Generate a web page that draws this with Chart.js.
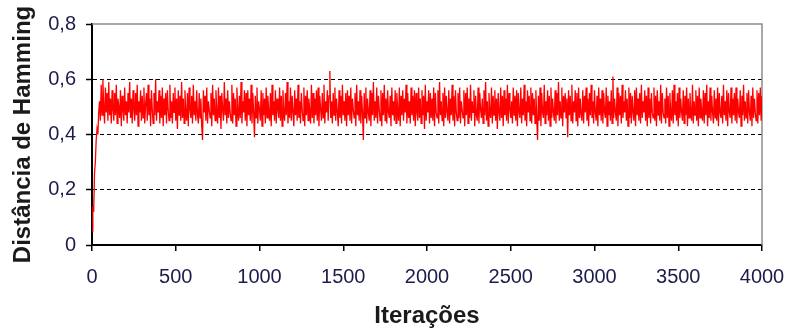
<!DOCTYPE html>
<html>
<head>
<meta charset="utf-8">
<script src="https://cdn.jsdelivr.net/npm/chart.js@4/dist/chart.umd.min.js"></script>
<style>
  html, body { margin: 0; padding: 0; background: #fff; }
  #wrap { width: 787px; height: 329px; position: relative; }
</style>
</head>
<body>
<div id="wrap"><canvas id="grafico"></canvas></div>
<script>
// eixo x: iteracoes, uma amostra a cada 5
const iteracoes = []
for (let it = 0; it <= 4000; it += 5) iteracoes.push(it)

// distancia de Hamming, em centesimos (uma linha = 100 iteracoes)
const distanciaCentesimos = [
    5, 14, 12, 26, 30, 38,
    42, 40, 48, 52, 45, 58, 47, 60, 50, 44, 57, 48, 55, 45, 59, 47, 53, 44, 56, 49,
    45, 55, 47, 58, 44, 53, 50, 46, 56, 43, 54, 49, 45, 57, 47, 52, 44, 55, 48, 59,
    46, 53, 44, 56, 49, 45, 55, 47, 58, 43, 52, 48, 56, 45, 54, 46, 57, 44, 51, 55,
    45, 58, 47, 53, 43, 56, 49, 44, 55, 47, 60, 45, 52, 48, 56, 44, 54, 46, 57, 43,
    53, 47, 55, 44, 56, 49, 45, 58, 46, 52, 44, 55, 48, 57, 45, 53, 42, 56, 47, 54,
    45, 59, 46, 53, 44, 56, 48, 45, 55, 43, 57, 49, 46, 54, 44, 58, 47, 52, 45, 56,
    47, 44, 55, 46, 53, 43, 38, 56, 48, 54, 45, 57, 44, 52, 49, 46, 55, 43, 58, 47,
    53, 45, 56, 48, 44, 57, 46, 54, 42, 55, 49, 45, 59, 47, 53, 44, 56, 46, 52, 48,
    45, 58, 44, 55, 47, 53, 43, 57, 49, 45, 54, 46, 59, 44, 52, 48, 56, 45, 55, 43,
    56, 47, 53, 45, 58, 44, 55, 48, 39, 54, 46, 57, 44, 52, 49, 45, 56, 43, 55, 47,
    53, 44, 57, 46, 54, 48, 45, 55, 43, 58, 47, 52, 45, 56, 44, 53, 49, 46, 57, 45,
    54, 43, 56, 48, 45, 55, 47, 59, 44, 52, 46, 57, 45, 54, 48, 43, 56, 47, 53, 45,
    58, 46, 52, 44, 55, 49, 45, 57, 43, 54, 47, 56, 45, 53, 48, 44, 58, 46, 55, 44,
    53, 47, 56, 45, 57, 43, 54, 49, 45, 55, 46, 58, 44, 52, 48, 56, 45, 54, 63, 46,
    52, 44, 55, 47, 57, 45, 53, 48, 43, 56, 46, 54, 44, 58, 47, 52, 45, 55, 43, 56,
    47, 54, 45, 57, 44, 53, 49, 46, 55, 43, 58, 47, 52, 45, 56, 44, 54, 48, 38, 55,
    46, 57, 44, 53, 48, 45, 56, 43, 55, 47, 59, 45, 52, 46, 57, 44, 54, 49, 45, 56,
    43, 55, 47, 58, 45, 53, 44, 56, 48, 46, 54, 43, 57, 47, 52, 45, 56, 44, 55, 49,
    45, 57, 43, 54, 47, 56, 45, 53, 48, 58, 44, 55, 46, 52, 44, 57, 47, 54, 45, 56,
    43, 55, 48, 45, 57, 46, 53, 44, 56, 47, 54, 42, 58, 45, 52, 48, 56, 44, 55, 46,
    53, 45, 57, 43, 55, 48, 46, 56, 44, 59, 47, 52, 45, 55, 43, 57, 46, 54, 48, 45,
    56, 44, 53, 47, 58, 45, 54, 43, 56, 48, 45, 55, 46, 57, 44, 52, 49, 46, 56, 43,
    55, 47, 57, 44, 53, 46, 58, 45, 52, 48, 56, 43, 54, 47, 45, 57, 44, 55, 49, 46,
    53, 44, 56, 47, 59, 45, 52, 43, 55, 48, 46, 57, 44, 54, 47, 56, 45, 53, 42, 55,
    48, 45, 57, 46, 54, 43, 56, 47, 53, 45, 58, 44, 55, 49, 46, 52, 44, 57, 47, 54,
    45, 56, 43, 55, 48, 46, 57, 44, 53, 47, 58, 45, 52, 43, 56, 48, 54, 45, 57, 44,
    55, 47, 53, 44, 56, 46, 38, 54, 45, 57, 43, 55, 48, 46, 58, 44, 52, 47, 56, 45,
    54, 43, 57, 46, 53, 48, 45, 56, 44, 55, 47, 59, 45, 52, 46, 57, 43, 54, 48, 55,
    46, 53, 39, 56, 47, 54, 45, 58, 44, 52, 48, 56, 45, 55, 43, 57, 46, 53, 47, 45,
    56, 44, 54, 48, 57, 45, 53, 43, 55, 47, 58, 46, 52, 44, 56, 48, 45, 54, 43, 57,
    47, 53, 45, 56, 44, 55, 48, 46, 57, 43, 54, 47, 52, 45, 56, 44, 61, 46, 53, 48,
    45, 57, 43, 55, 47, 54, 44, 58, 46, 52, 48, 56, 45, 53, 43, 57, 46, 55, 44, 54,
    48, 45, 56, 43, 57, 47, 53, 45, 55, 44, 58, 46, 52, 48, 56, 45, 54, 43, 57, 46,
    53, 44, 55, 48, 46, 57, 45, 54, 43, 56, 47, 52, 45, 58, 44, 55, 48, 46, 53, 44,
    57, 46, 54, 43, 55, 48, 45, 56, 44, 58, 47, 52, 45, 55, 43, 57, 46, 53, 48, 45,
    56, 44, 54, 47, 57, 43, 53, 46, 55, 48, 45, 58, 44, 52, 47, 56, 45, 54, 43, 57,
    46, 53, 48, 45, 56, 44, 55, 47, 58, 43, 52, 46, 57, 45, 54, 48, 44, 56, 46, 53,
    45, 57, 43, 55, 48, 46, 54, 44, 58, 47, 52, 45, 56, 43, 55, 48, 46, 57, 44, 53,
    47, 55, 45, 57, 44, 53, 48, 46, 56, 43, 54, 47, 58, 45, 52, 46, 55, 44, 56, 48,
    45, 54, 43, 57, 46, 53, 48, 45, 56, 44, 55, 47, 57, 45, 54
]
const distancia = distanciaCentesimos.map((v) => v / 100)

const yTicks = [0, 0.2, 0.4, 0.6, 0.8]
const xTicks = [0, 500, 1000, 1500, 2000, 2500, 3000, 3500, 4000]

const corTexto = '#1c1c4c'
const fonte = "'Liberation Sans', Arial, sans-serif"

// moldura cinza (topo e direita) como no Excel
const moldura = {
    id: 'moldura',
    beforeDatasetsDraw(chart) {
        const { ctx, chartArea: a } = chart
        ctx.save()
        ctx.strokeStyle = '#8c8c8c'
        ctx.lineWidth = 1.5
        ctx.beginPath()
        ctx.moveTo(a.left, a.top)
        ctx.lineTo(a.right, a.top)
        ctx.lineTo(a.right, a.bottom)
        ctx.stroke()
        ctx.restore()
    },
}

const pontos = iteracoes.map((x, i) => ({ x: x, y: distancia[i] }))

new Chart(document.getElementById('grafico'), {
    type: 'line',
    data: {
        datasets: [
            {
                data: pontos,
                borderColor: '#ff0000',
                borderWidth: 1.3,
                pointRadius: 0,
                tension: 0,
                fill: false,
            },
        ],
    },
    options: {
        responsive: true,
        maintainAspectRatio: false,
        animation: false,
        layout: { padding: { top: 24, right: 25, left: 0, bottom: 0 } },
        plugins: { legend: { display: false }, tooltip: { enabled: false } },
        scales: {
            x: {
                type: 'linear',
                min: 0,
                max: 4000,
                afterFit: (s) => {
                    s.height = 84
                    s.paddingLeft = 0
                    s.paddingRight = 0
                },
                afterBuildTicks: (s) => { s.ticks = xTicks.map((v) => ({ value: v })) },
                ticks: {
                    color: corTexto,
                    font: { family: fonte, size: 20 },
                    padding: 14,
                    maxRotation: 0,
                    callback: (v) => String(v),
                },
                grid: {
                    drawOnChartArea: false,
                    drawTicks: true,
                    tickLength: 6,
                    tickColor: '#000',
                    lineWidth: 1.5,
                },
                border: { color: '#000', width: 2 },
                title: {
                    display: true,
                    text: 'Iterações',
                    color: '#1a1a1a',
                    font: { family: fonte, size: 24, weight: 'bold', lineHeight: 1 },
                    padding: { top: 0, bottom: 1 },
                },
            },
            y: {
                min: 0,
                max: 0.8,
                afterFit: (s) => { s.width = 92 },
                afterBuildTicks: (s) => { s.ticks = yTicks.map((v) => ({ value: v })) },
                ticks: {
                    color: corTexto,
                    font: { family: fonte, size: 20 },
                    padding: 10,
                    callback: (v) => String(v).replace('.', ','),
                },
                grid: {
                    color: (c) => (c.tick && c.tick.value > 0 && c.tick.value < 0.8 ? '#000' : 'rgba(0,0,0,0)'),
                    lineWidth: 1,
                    drawTicks: true,
                    tickLength: 6,
                    tickColor: '#000',
                    tickWidth: 1.5,
                },
                border: { color: '#000', width: 2, dash: [4, 3] },
                title: {
                    display: true,
                    text: 'Distância de Hamming',
                    color: '#1a1a1a',
                    font: { family: fonte, size: 24, weight: 'bold', lineHeight: 1 },
                    padding: { top: 11, bottom: 0 },
                },
            },
        },
    },
    plugins: [moldura],
})
</script>
</body>
</html>
